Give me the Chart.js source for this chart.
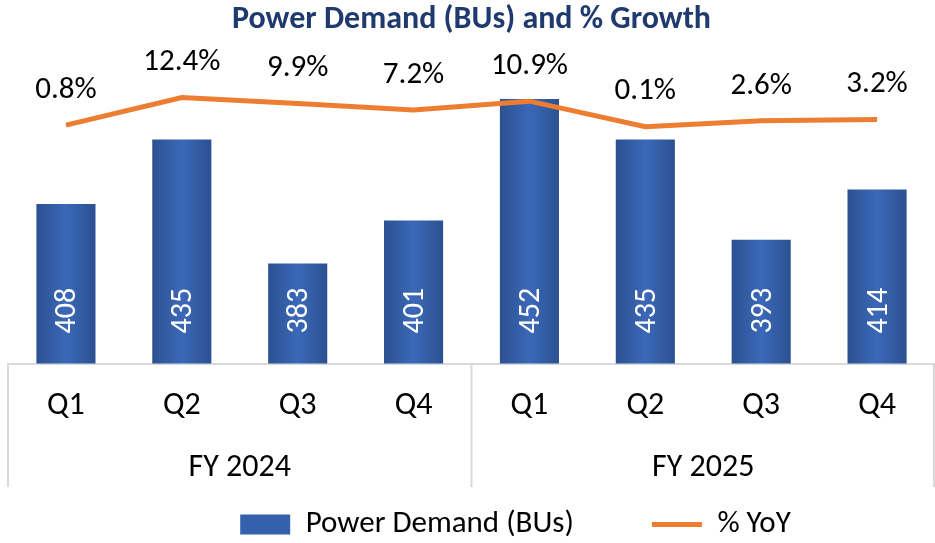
<!DOCTYPE html>
<html>
<head>
<meta charset="utf-8">
<script src="https://cdn.jsdelivr.net/npm/chart.js@4.4.1/dist/chart.umd.min.js"></script>
<style>
  html, body { margin: 0; padding: 0; background: #fff; }
  #wrap { width: 935px; height: 543px; }
</style>
</head>
<body>
<div id="wrap"><canvas id="myChart"></canvas></div>
<script>
var quarters = ['Q1', 'Q2', 'Q3', 'Q4', 'Q1', 'Q2', 'Q3', 'Q4'];
var years = ['FY 2024', 'FY 2025'];
var demand = [408, 435, 383, 401, 452, 435, 393, 414];
var growth = [0.8, 12.4, 9.9, 7.2, 10.9, 0.1, 2.6, 3.2];

var FONT = "Carlito, Calibri, Lato, sans-serif";

var ctx = document.getElementById('myChart').getContext('2d');

// horizontal dark-light-dark fill for each bar
function barFill(c) {
  var chart = c.chart;
  if (!chart.chartArea || c.dataIndex === undefined) return '#3461ab';
  var xs = chart.scales.x;
  var cx = xs.getPixelForValue(c.dataIndex);
  var w = xs.getPixelForTick(1) - xs.getPixelForTick(0);
  var half = w * 0.51 / 2;
  var g = chart.ctx.createLinearGradient(cx - half, 0, cx + half, 0);
  g.addColorStop(0, '#2c5191');
  g.addColorStop(0.5, '#3b68b8');
  g.addColorStop(1, '#2c5191');
  return g;
}

var valueLabels = {
  id: 'valueLabels',
  afterDatasetsDraw: function(chart) {
    var c = chart.ctx;
    var xs = chart.scales.x;
    var bottom = chart.chartArea.bottom;
    c.save();
    c.fillStyle = '#ffffff';
    c.font = '30px ' + FONT;
    c.textAlign = 'center';
    c.textBaseline = 'middle';
    demand.forEach(function(v, i) {
      c.save();
      c.translate(xs.getPixelForValue(i) + 2, bottom - 53);
      c.rotate(-Math.PI / 2);
      c.fillText(String(v), 0, 0);
      c.restore();
    });
    var pts = chart.getDatasetMeta(1).data;
    c.fillStyle = '#000000';
    c.font = '31px ' + FONT;
    pts.forEach(function(p, i) {
      c.fillText(growth[i].toFixed(1) + '%', p.x, p.y - 35);
    });
    c.restore();
  }
};

var groupLines = {
  id: 'groupLines',
  afterLayout: function(chart) {
    chart.legend.left += 44;
    chart.legend.right += 44;
  },
  afterDraw: function(chart) {
    var c = chart.ctx;
    var xs = chart.scales.x;
    var x2 = chart.scales.x2;
    var a = chart.chartArea;
    var mid = (xs.getPixelForValue(3) + xs.getPixelForValue(4)) / 2;
    c.save();
    c.strokeStyle = '#d9d9d9';
    c.lineWidth = 2;
    [a.left, mid, a.right - 1].forEach(function(px) {
      c.beginPath();
      c.moveTo(px, a.bottom);
      c.lineTo(px, x2.bottom);
      c.stroke();
    });
    c.restore();
  }
};

new Chart(ctx, {
  type: 'bar',
  data: {
    labels: quarters,
    datasets: [{
        type: 'bar',
        label: 'Power Demand (BUs)',
        data: demand,
        backgroundColor: barFill,
        borderWidth: 0,
        barPercentage: 0.51,
        categoryPercentage: 1,
        yAxisID: 'y',
        order: 1
      },
      {
        type: 'line',
        label: '% YoY',
        data: growth,
        borderColor: '#ed7d31',
        backgroundColor: '#ed7d31',
        borderWidth: 5,
        pointRadius: 0,
        tension: 0,
        yAxisID: 'y2',
        order: 0
      }
    ]
  },
  plugins: [valueLabels, groupLines],
  options: {
    responsive: true,
    maintainAspectRatio: false,
    animation: false,
    layout: { padding: { left: 8, right: 0, top: 0, bottom: -7 } },
    plugins: {
      title: {
        display: true,
        text: 'Power Demand (BUs) and % Growth',
        color: '#1f3a6e',
        font: { size: 32, weight: 'bold', family: FONT },
        padding: { top: 1, bottom: 0 }
      },
      legend: {
        position: 'bottom',
        labels: {
          color: '#000',
          font: { size: 31, family: FONT },
          usePointStyle: true,
          pointStyleWidth: 50,
          boxHeight: 20,
          padding: 22,
          sort: function(a, b) { return a.datasetIndex - b.datasetIndex; },
          generateLabels: function(chart) {
            var items = Chart.defaults.plugins.legend.labels.generateLabels(chart);
            items.forEach(function(it) {
              if (it.datasetIndex === 0) {
                it.pointStyle = 'rect';
                it.fillStyle = '#3461ab';
                it.lineWidth = 0;
                it.text = it.text + '        ';
              } else {
                it.pointStyle = 'line';
                it.strokeStyle = '#ed7d31';
                it.lineWidth = 5;
              }
            });
            return items;
          }
        }
      },
      tooltip: { enabled: false }
    },
    scales: {
      x: {
        offset: true,
        grid: { display: false, drawTicks: false },
        border: { display: true, color: '#d9d9d9', width: 2 },
        ticks: { color: '#000', padding: 23, font: { size: 32, family: FONT, lineHeight: 1.2 } }
      },
      x2: {
        type: 'category',
        labels: years,
        position: 'bottom',
        offset: true,
        grid: { display: false, drawTicks: false },
        border: { display: false },
        ticks: { color: '#000', padding: 1.5, font: { size: 32, family: FONT, lineHeight: 1.125 } }
      },
      y: {
        display: false,
        min: 341,
        max: 477
      },
      y2: {
        display: false,
        position: 'right',
        min: -100,
        max: 37
      }
    }
  }
});
</script>
</body>
</html>
